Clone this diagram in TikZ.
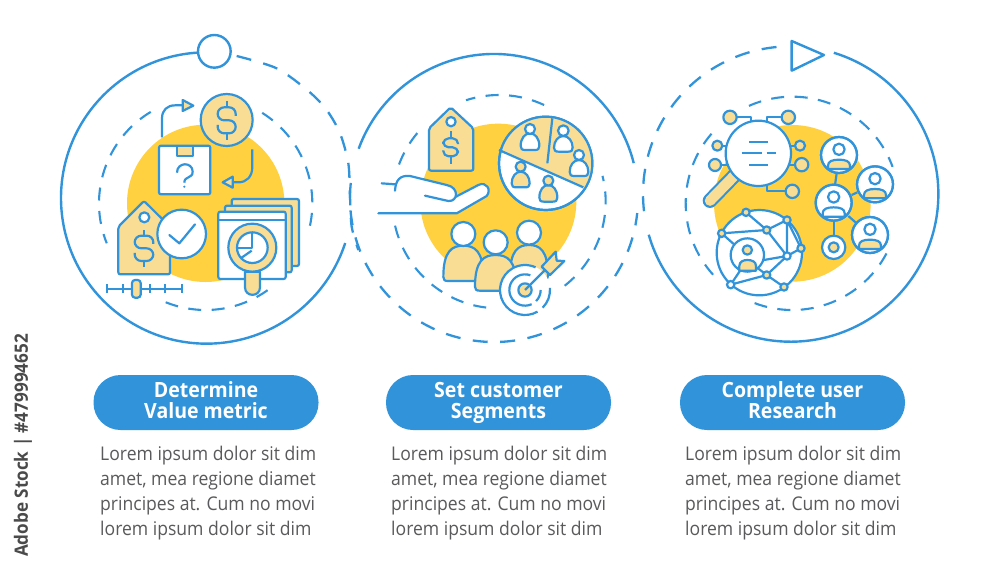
\documentclass[tikz,border=0pt]{standalone}
\usepackage{fontspec}
\setmainfont[FakeStretch=0.93]{Open Sans}
\definecolor{bl}{HTML}{3194DB}
\definecolor{ye}{HTML}{FFD03F}
\definecolor{lt}{HTML}{F9DD95}
\definecolor{tx}{HTML}{5A5A5C}
\definecolor{wm}{HTML}{4A4A4A}
\tikzset{
  ic/.style={draw=bl,line width=2.2pt,line join=round},
  orb/.style={draw=bl,line width=2.4pt},
  dashO/.style={draw=bl,line width=2.3pt,dash pattern=on 15pt off 12.5pt},
  dashI/.style={draw=bl,line width=2.1pt,dash pattern=on 13pt off 10.5pt},
  pill/.style={fill=bl,rounded corners=27pt,minimum width=225pt,minimum height=55pt,inner sep=0pt,draw=none},
  ptitle/.style={text=white,anchor=base,font=\bfseries\fontsize{21}{21}\selectfont,inner sep=0pt},
  body/.style={text=tx,align=left,anchor=north west,inner sep=0pt,font=\fontsize{18.9}{24.9}\selectfont},
  zm/.style={x=0.33333pt,y=-0.33333pt}
}
\newcommand\arcat[6]{\draw[#6] ([shift={(#1,#2)}]#4:#3) arc[start angle=#4,end angle=#5,radius=#3];}
\newcommand\dolsign[5]{% cx cy halfwidth halfheight stub
  \begin{scope}[shift={(#1,#2)}]
  \draw[ic,rounded corners={#3*0.24pt}] (#3,-#4*0.35) -- (#3,-#4) -- (-#3,-#4) -- (-#3,0) -- (#3,0) -- (#3,#4) -- (-#3,#4) -- (-#3,#4*0.35);
  \draw[ic] (0,-#4) -- (0,-#5) (0,#4) -- (0,#5);
  \end{scope}}
\newcommand\personA[8]{% cx heady r top bot w headfill bodyfill
  \begin{scope}[shift={(#1,0)}]
  \draw[ic,fill=#8] (-#6,#5-12) .. controls (-#6,#4+15) and (-#6*0.55,#4) .. (0,#4) .. controls (#6*0.55,#4) and (#6,#4+15) .. (#6,#5-12) .. controls (#6,#5-3) and (#6-4,#5) .. (#6-14,#5) -- (-#6+14,#5) .. controls (-#6+4,#5) and (-#6,#5-3) .. cycle;
  \draw[ic,fill=#7] (0,#2) circle[radius=#3];
  \end{scope}}
\newcommand\usercirc[3]{% cx cy bodyfill
  \begin{scope}[shift={(#1,#2)}]
  \draw[ic,fill=white] (0,0) circle[radius=54];
  \draw[ic,fill=#3] (-33,42) -- (-33,32) .. controls (-33,19) and (-20,14) .. (0,14) .. controls (20,14) and (33,19) .. (33,32) -- (33,42) -- cycle;
  \draw[ic,fill=white] (0,-17) circle[radius=17];
  \draw[ic] (0,0) circle[radius=54];
  \end{scope}}
\newcommand\dsat[3]{\draw[ic,fill=lt] (#1,#2) circle[radius=#3];}
\begin{document}
\begin{tikzpicture}[x=1pt,y=-1pt]
\useasboundingbox (0,0) rectangle (1000,574);
\fill[white] (0,0) rectangle (1000,574);

% ---------- first circle ----------
\begin{scope}[shift={(50,30)},zm]
\fill[ye] (467,520) circle[radius=236];
\arcat{470}{504}{437}{266.5}{18}{orb}
\draw[dashO] plot[smooth] coordinates {(560,78) (680,115) (775,183) (830,240) (870,310) (895,400) (900,500) (905,590) (925,660)};
\arcat{467}{520}{320}{239}{158}{dashI}
\arcat{467}{520}{320}{112}{54}{dashI}
\arcat{467}{520}{320}{-58}{17}{dashI}
\draw[orb,fill=white] (493,64) circle[radius=49];
% arrows
\draw[ic] (336,322) -- (336,265) .. controls (336,240) and (352,226) .. (375,226) -- (398,226);
\draw[ic,fill=lt] (398,210) -- (430,227) -- (398,243) -- cycle;
\draw[ic] (607,358) -- (607,410) .. controls (607,440) and (590,457) .. (565,457) -- (548,457);
\draw[ic,fill=lt] (548,440) -- (518,457) -- (548,473) -- cycle;
% dollar coin
\draw[ic,fill=lt] (530,270) circle[radius=78];
\dolsign{530}{271}{27}{39}{59}
% box
\draw[ic,fill=white,rounded corners=2pt] (327,347) rectangle (481,493);
\draw[ic,fill=lt] (380,347) rectangle (428,377);
\draw[ic] (381,428) .. controls (381,395) and (428,395) .. (428,425) .. controls (428,447) and (403,437) .. (403,458);
\fill[bl] (403,470) circle[radius=3.5];
% tag
\draw[ic,fill=lt,rounded corners=2pt] (205,590) -- (282,513) -- (360,590) -- (360,733) -- (205,733) -- cycle;
\draw[ic,fill=white] (283,562) circle[radius=15];
\dolsign{282}{655}{28}{38}{56}
% check
\draw[ic,fill=white] (395,612) circle[radius=73];
\draw[ic,line cap=round] (358,615) -- (388,640) -- (435,583);
% cards
\draw[ic,fill=lt,rounded corners=2pt] (545,507) rectangle (747,708);
\draw[ic,fill=lt,rounded corners=2pt] (525,527) rectangle (725,727);
\draw[ic,fill=white,rounded corners=2pt] (505,545) rectangle (707,747);
\draw[ic] (505,570) -- (707,570);
% lens
\draw[ic,fill=lt] (585,725) -- (585,772) .. controls (585,802) and (630,802) .. (630,772) -- (630,725) -- cycle;
\draw[ic,fill=lt] (607,653) circle[radius=72];
\draw[ic,fill=white] (607,653) circle[radius=46];
\draw[ic] (605,607) -- (605,655) -- (562,655);
\draw[ic] (572,685) -- (605,662);
% slider
\draw[ic] (172,777) -- (395,777);
\foreach \t in {172,218,300,345,395} \draw[ic] (\t,763) -- (\t,790);
\draw[ic,fill=lt,rounded corners=3pt] (246,750) rectangle (272,803);
\end{scope}

% ---------- second circle ----------
\begin{scope}[shift={(350,50)},zm]
\fill[ye] (445,455) circle[radius=234];
\arcat{432}{444}{432}{200}{346}{orb}
\arcat{432}{444}{432}{186}{6}{dashO}
\arcat{447}{455}{320}{-65}{-108}{dashI}
\arcat{447}{455}{320}{220}{199}{dashI}
\arcat{447}{455}{320}{167}{92}{dashI}
\arcat{447}{455}{320}{52}{-14}{dashI}
% tag
\draw[ic,fill=lt,rounded corners=2pt] (237,235) -- (302,172) -- (370,235) -- (370,362) -- (237,362) -- cycle;
\draw[ic,fill=white] (303,215) circle[radius=14];
\dolsign{302}{292}{22}{27}{50}
% pie
\draw[ic,fill=white] (587,340) circle[radius=140];
\begin{scope}
\clip (587,340) circle[radius=140];
\fill[lt] (300,235) -- (850,478) -- (850,100) -- (300,100) -- cycle;
\end{scope}
\draw[ic] (587,340) circle[radius=140];
\draw[ic] (447,300) -- (700,412);
\draw[ic] (607,205) -- (592,340);
\personA{540}{237}{15}{250}{300}{28}{white}{white}
\personA{640}{242}{16}{258}{305}{28}{white}{white}
\personA{687}{315}{15}{330}{378}{28}{white}{white}
\personA{512}{350}{15}{365}{412}{27}{lt}{lt}
\personA{595}{392}{15}{405}{455}{27}{lt}{lt}
% hand
\fill[white] (85,490) -- (320,490) -- (410,438) .. controls (425,420) and (410,393) .. (385,405) -- (318,440) .. controls (320,420) and (310,410) .. (290,405) -- (180,378) .. controls (150,375) and (137,390) .. (135,402) -- (95,400) -- cycle;
\draw[ic,line cap=round] (85,490) -- (320,490) -- (410,438) .. controls (425,420) and (410,393) .. (385,405) -- (318,440);
\draw[ic,line cap=round] (225,437) -- (295,453) .. controls (325,455) and (328,412) .. (290,405) -- (180,378) .. controls (150,375) and (137,390) .. (135,422);
\draw[ic,line cap=round] (95,400) -- (135,403);
% people
\personA{340}{552}{36}{587}{693}{60}{white}{lt}
\personA{537}{548}{36}{585}{690}{57}{white}{lt}
\personA{437}{577}{36}{615}{722}{62}{white}{lt}
% target
\fill[white] (525,720) circle[radius=76];
\arcat{525}{720}{75}{-5}{45}{ic}
\arcat{525}{720}{75}{60}{295}{ic}
\arcat{525}{720}{47}{0}{45}{ic}
\arcat{525}{720}{47}{65}{290}{ic}
\draw[ic,fill=lt] (525,720) circle[radius=20];
\draw[ic] (525,720) -- (590,655);
\draw[ic,fill=lt] (575,650) -- (617,605) -- (620,632) -- (643,633) -- (600,675) -- cycle;
\end{scope}

% ---------- third circle ----------
\begin{scope}[shift={(640,30)},zm]
\fill[ye] (457,520) circle[radius=235];
\arcat{452}{492}{443}{-73}{164}{orb}
\arcat{452}{492}{443}{264.5}{171}{dashO}
\arcat{457}{520}{320}{246}{340}{dashI}
\arcat{457}{520}{320}{28}{114}{dashI}
\arcat{457}{520}{320}{138}{223.5}{dashI}
\draw[orb,fill=white,line join=round] (455,33) -- (552,75) -- (455,122) -- cycle;
% magnifier
\draw[bl,line width=14.6pt,line cap=round] (285,435) -- (210,512);
\draw[lt,line width=10.4pt,line cap=round] (285,435) -- (210,512);
\draw[ic] (290,262) -- (333,262) -- (333,275);
\draw[ic] (425,262) -- (382,262) -- (382,275);
\draw[ic] (247,347) -- (262,347);
\draw[ic] (243,405) -- (265,405);
\draw[ic] (448,347) -- (465,347);
\draw[ic] (445,404) -- (465,404);
\draw[ic] (437,484) -- (382,484) -- (382,463);
\dsat{270}{262}{20}
\dsat{445}{262}{20}
\dsat{232}{347}{15}
\dsat{225}{405}{18}
\dsat{480}{347}{15}
\dsat{485}{404}{20}
\dsat{457}{484}{20}
\draw[ic,fill=white] (355,370) circle[radius=98];
\draw[ic] (328,337) -- (385,337);
\draw[ic] (305,370) -- (365,370) (380,370) -- (408,370);
\draw[ic] (328,404) -- (385,404);
% user tree
\draw[ic] (590,430) -- (585,465);
\draw[ic] (635,495) -- (652,487);
\draw[ic] (625,558) -- (650,580);
\draw[ic] (581,572) -- (581,617);
\usercirc{597}{375}{lt}
\usercirc{705}{463}{lt}
\usercirc{690}{615}{lt}
\usercirc{581}{518}{white}
\draw[ic,fill=white] (581,652) circle[radius=35];
\dsat{581}{652}{15}
% network
\draw[ic,fill=white] (358,668) circle[radius=128];
\draw[ic] (318,547) -- (380,600) (245,610) -- (380,600) (380,600) -- (441,570) (380,600) -- (441,678) (441,570) -- (441,678) (441,570) -- (483,655) (441,678) -- (483,655) (441,678) -- (360,692) (441,678) -- (380,735) (380,735) -- (272,764) (272,764) -- (305,715) (380,735) -- (350,712) (380,735) -- (432,771) (245,610) -- (290,650);
\draw[ic,fill=white] (322,675) circle[radius=50];
\draw[ic,fill=lt] (298,722) -- (298,708) .. controls (298,695) and (310,690) .. (322,690) .. controls (336,690) and (348,695) .. (348,708) -- (348,722) -- cycle;
\draw[ic,fill=lt] (322,660) circle[radius=14];
\foreach \a/\b in {318/547,441/570,245/610,380/600,483/655,380/735,432/771} \draw[ic,fill=lt] (\a,\b) circle[radius=11];
\foreach \a/\b in {441/678,272/764} \draw[ic,fill=white] (\a,\b) circle[radius=11];
\end{scope}

% ---------- pills and texts ----------
\node[pill] (p1) at (206,402.5) {};
\node[pill] (p2) at (498.5,402.5) {};
\node[pill] (p3) at (792.5,402.5) {};
\node[ptitle] (t1a) at (206,397) {Determine};
\node[ptitle] (t1b) at (206,418) {Value metric};
\node[ptitle] (t2a) at (498.5,397) {Set customer};
\node[ptitle] (t2b) at (498.5,418) {Segments};
\node[ptitle] (t3a) at (792.5,397) {Complete user};
\node[ptitle] (t3b) at (792.5,418) {Research};
\node[body] (b1) at (100,446) {Lorem ipsum dolor sit dim\\amet, mea regione diamet\\principes at. Cum no movi\\lorem ipsum dolor sit dim};
\node[body] (b2) at (391,446) {Lorem ipsum dolor sit dim\\amet, mea regione diamet\\principes at. Cum no movi\\lorem ipsum dolor sit dim};
\node[body] (b3) at (685,446) {Lorem ipsum dolor sit dim\\amet, mea regione diamet\\principes at. Cum no movi\\lorem ipsum dolor sit dim};
\node[rotate=90,text=wm,inner sep=0pt,font=\fontsize{18.4}{20}\selectfont\bfseries] (wmk) at (23,445.5) {Adobe Stock | \#479994652};
\end{tikzpicture}
\end{document}
